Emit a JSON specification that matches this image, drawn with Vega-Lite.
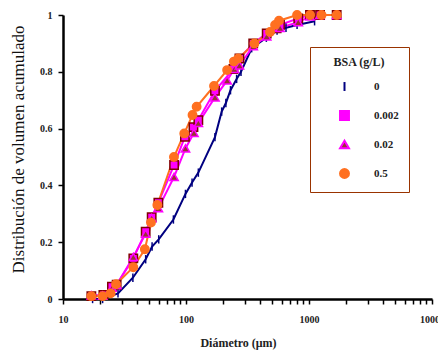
{
  "$schema": "https://vega.github.io/schema/vega-lite/v6.json",
  "width": 369,
  "height": 284,
  "autosize": "none",
  "padding": {"left": 63, "top": 15, "right": 6, "bottom": 51},
  "background": "white",
  "config": {"view": {"stroke": null}},
  "datasets": {
    "pts": [
      {"s": "0", "d": 17.4, "v": 0.0}, {"s": "0", "d": 21, "v": 0.0}, {"s": "0", "d": 28, "v": 0.02}, {"s": "0", "d": 37, "v": 0.075},
      {"s": "0", "d": 47, "v": 0.14}, {"s": "0", "d": 53, "v": 0.185}, {"s": "0", "d": 60, "v": 0.21}, {"s": "0", "d": 79, "v": 0.28},
      {"s": "0", "d": 99, "v": 0.37}, {"s": "0", "d": 112, "v": 0.41}, {"s": "0", "d": 126, "v": 0.445}, {"s": "0", "d": 172, "v": 0.57},
      {"s": "0", "d": 195, "v": 0.66}, {"s": "0", "d": 211, "v": 0.69}, {"s": "0", "d": 230, "v": 0.735}, {"s": "0", "d": 258, "v": 0.775},
      {"s": "0", "d": 280, "v": 0.80}, {"s": "0", "d": 342, "v": 0.883}, {"s": "0", "d": 450, "v": 0.92}, {"s": "0", "d": 550, "v": 0.945},
      {"s": "0", "d": 650, "v": 0.955}, {"s": "0", "d": 800, "v": 0.965}, {"s": "0", "d": 1110, "v": 0.978},

      {"s": "0.002", "d": 17, "v": 0.01}, {"s": "0.002", "d": 21.3, "v": 0.014}, {"s": "0.002", "d": 25, "v": 0.043}, {"s": "0.002", "d": 27.3, "v": 0.05},
      {"s": "0.002", "d": 37.3, "v": 0.143}, {"s": "0.002", "d": 47, "v": 0.237}, {"s": "0.002", "d": 52.6, "v": 0.288}, {"s": "0.002", "d": 59.6, "v": 0.339},
      {"s": "0.002", "d": 80, "v": 0.472}, {"s": "0.002", "d": 98, "v": 0.571}, {"s": "0.002", "d": 115, "v": 0.605}, {"s": "0.002", "d": 126, "v": 0.63},
      {"s": "0.002", "d": 172, "v": 0.733}, {"s": "0.002", "d": 243, "v": 0.81}, {"s": "0.002", "d": 272, "v": 0.847}, {"s": "0.002", "d": 352, "v": 0.90},
      {"s": "0.002", "d": 453, "v": 0.935}, {"s": "0.002", "d": 546, "v": 0.953}, {"s": "0.002", "d": 581, "v": 0.965}, {"s": "0.002", "d": 818, "v": 0.988},
      {"s": "0.002", "d": 1019, "v": 1.0}, {"s": "0.002", "d": 1230, "v": 1.0}, {"s": "0.002", "d": 1679, "v": 1.0},

      {"s": "0.02", "d": 17, "v": 0.013}, {"s": "0.02", "d": 21, "v": 0.012}, {"s": "0.02", "d": 25, "v": 0.04}, {"s": "0.02", "d": 27.3, "v": 0.05},
      {"s": "0.02", "d": 37.3, "v": 0.148}, {"s": "0.02", "d": 47, "v": 0.23}, {"s": "0.02", "d": 52.6, "v": 0.285}, {"s": "0.02", "d": 59.6, "v": 0.32},
      {"s": "0.02", "d": 80, "v": 0.43}, {"s": "0.02", "d": 99, "v": 0.53}, {"s": "0.02", "d": 116, "v": 0.585}, {"s": "0.02", "d": 126, "v": 0.62},
      {"s": "0.02", "d": 172, "v": 0.71}, {"s": "0.02", "d": 216, "v": 0.77}, {"s": "0.02", "d": 247, "v": 0.81}, {"s": "0.02", "d": 272, "v": 0.823},
      {"s": "0.02", "d": 352, "v": 0.89}, {"s": "0.02", "d": 453, "v": 0.925}, {"s": "0.02", "d": 581, "v": 0.955}, {"s": "0.02", "d": 818, "v": 0.975},
      {"s": "0.02", "d": 1019, "v": 0.995}, {"s": "0.02", "d": 1230, "v": 1.0}, {"s": "0.02", "d": 1679, "v": 1.0},

      {"s": "0.5", "d": 17, "v": 0.01}, {"s": "0.5", "d": 21, "v": 0.01}, {"s": "0.5", "d": 24.4, "v": 0.02}, {"s": "0.5", "d": 27, "v": 0.052},
      {"s": "0.5", "d": 37.3, "v": 0.112}, {"s": "0.5", "d": 46.3, "v": 0.175}, {"s": "0.5", "d": 51.9, "v": 0.269}, {"s": "0.5", "d": 58.5, "v": 0.331},
      {"s": "0.5", "d": 79.8, "v": 0.50}, {"s": "0.5", "d": 96.8, "v": 0.583}, {"s": "0.5", "d": 113, "v": 0.648}, {"s": "0.5", "d": 122, "v": 0.677},
      {"s": "0.5", "d": 169, "v": 0.75}, {"s": "0.5", "d": 216, "v": 0.806}, {"s": "0.5", "d": 245, "v": 0.836}, {"s": "0.5", "d": 266, "v": 0.847},
      {"s": "0.5", "d": 360, "v": 0.90}, {"s": "0.5", "d": 482, "v": 0.94}, {"s": "0.5", "d": 530, "v": 0.965}, {"s": "0.5", "d": 570, "v": 0.98},
      {"s": "0.5", "d": 800, "v": 1.0}, {"s": "0.5", "d": 1020, "v": 1.0}, {"s": "0.5", "d": 1265, "v": 1.0}, {"s": "0.5", "d": 1680, "v": 1.0}
    ]
  },
  "data": {"name": "pts"},
  "encoding": {
    "x": {
      "field": "d", "type": "quantitative",
      "scale": {"type": "log", "domain": [10, 10000], "nice": false},
      "axis": {
        "title": "Diámetro (μm)",
        "values": [10,20,30,40,50,60,70,80,90,100,200,300,400,500,600,700,800,900,1000,2000,3000,4000,5000,6000,7000,8000,9000,10000],
        "format": "d",
        "labelExpr": "(datum.value==10||datum.value==100||datum.value==1000||datum.value==10000) ? datum.label : ''",
        "labelFlush": false, "labelOverlap": false, "grid": false,
        "domainColor": "black", "domainWidth": 2.5, "tickColor": "black", "tickWidth": 1.5, "tickSize": 5,
        "labelFont": "Liberation Serif", "labelFontWeight": "bold", "labelFontSize": 10, "labelColor": "#222", "labelPadding": 10,
        "titleFont": "Liberation Serif", "titleFontWeight": "bold", "titleFontSize": 12, "titleColor": "#222",
        "titleX": 175, "titleY": 38, "titleBaseline": "top"
      }
    },
    "y": {
      "field": "v", "type": "quantitative",
      "scale": {"domain": [0, 1], "nice": false},
      "axis": {
        "title": "Distribución de volumen acumulado",
        "values": [0, 0.2, 0.4, 0.6, 0.8, 1],
        "format": ".1~f",
        "grid": false,
        "domainColor": "black", "domainWidth": 2.5, "tickColor": "black", "tickWidth": 1.5, "tickSize": 5,
        "labelFont": "Liberation Serif", "labelFontWeight": "bold", "labelFontSize": 10, "labelColor": "#222", "labelPadding": 6,
        "titleFont": "Liberation Serif", "titleFontWeight": "normal", "titleFontSize": 17, "titleColor": "#111",
        "titleX": -36, "titleY": 134
      }
    }
  },
  "layer": [
    {
      "mark": {"type": "line", "strokeWidth": 2},
      "encoding": {
        "color": {
          "field": "s", "type": "nominal",
          "scale": {"domain": ["0", "0.002", "0.02", "0.5"], "range": ["#000080", "#FF00FF", "#FF00FF", "#FF7020"]},
          "legend": {
            "title": "BSA (g/L)",
            "orient": "none", "legendX": 247, "legendY": 32,
            "padding": 10, "strokeColor": "#993300",
            "titleFont": "Liberation Serif", "titleFontWeight": "bold", "titleFontSize": 12, "titleColor": "#222",
            "titleAnchor": "middle", "titleAlign": "center", "titlePadding": 12,
            "labelFont": "Liberation Serif", "labelFontWeight": "bold", "labelFontSize": 11, "labelColor": "#222",
            "symbolSize": 80, "symbolOffset": 19, "labelOffset": 24, "rowPadding": 12, "symbolStrokeWidth": 2
          }
        }
      }
    },
    {
      "mark": {"type": "point", "filled": true, "opacity": 1, "strokeWidth": 1.5},
      "encoding": {
        "shape": {
          "field": "s", "type": "nominal",
          "scale": {"domain": ["0", "0.002", "0.02", "0.5"], "range": ["M0,-1V1", "square", "triangle-up", "circle"]},
          "legend": null
        },
        "fill": {
          "field": "s", "type": "nominal",
          "scale": {"domain": ["0", "0.002", "0.02", "0.5"], "range": ["transparent", "#FF00FF", "#993333", "#FF7020"]},
          "legend": null
        },
        "stroke": {
          "field": "s", "type": "nominal",
          "scale": {"domain": ["0", "0.002", "0.02", "0.5"], "range": ["#000080", "#800000", "#FF00FF", "#FF7020"]},
          "legend": null
        },
        "size": {"value": 70}
      }
    }
  ]
}
